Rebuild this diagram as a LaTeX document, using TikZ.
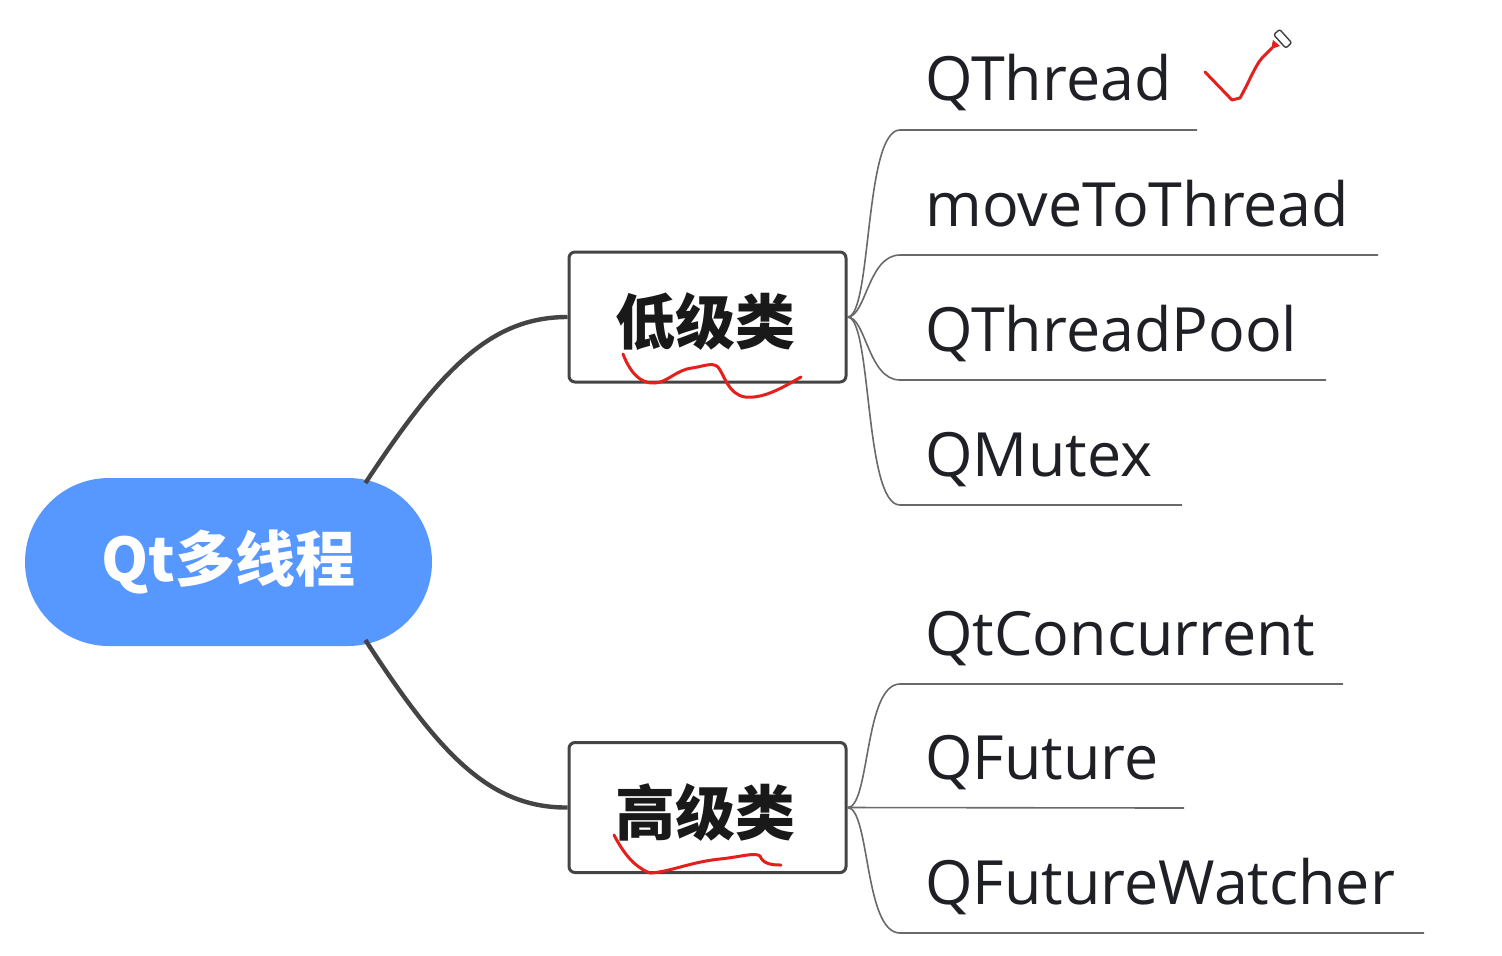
\documentclass[tikz,border=0pt]{standalone}
\usepackage{fontspec}
\setmainfont{Open Sans}
\newfontfamily\cjk{Noto Sans CJK SC}
\usetikzlibrary{calc}
\definecolor{rootblue}{RGB}{86,152,255}
\definecolor{linegray}{RGB}{68,68,68}
\definecolor{leafgray}{RGB}{105,105,105}
\definecolor{inkred}{RGB}{228,32,28}
\definecolor{txtdark}{RGB}{30,32,38}
\definecolor{boxtext}{RGB}{25,25,25}
\tikzset{
  rootnode/.style={rectangle, rounded corners=42pt, fill=rootblue, minimum width=203.5pt, minimum height=84pt, inner sep=0pt, text=white, font=\cjk\bfseries\fontsize{30}{36}\selectfont},
  catbox/.style={rectangle, rounded corners=3pt, draw=linegray, line width=1.5pt, fill=white, minimum width=138.5pt, minimum height=65pt, inner sep=0pt, text=boxtext, font=\cjk\bfseries\fontsize{30}{36}\selectfont},
  leaftext/.style={anchor=base west, inner sep=0pt, text=txtdark, font=\fontsize{30.5}{36}\selectfont},
  mainlink/.style={draw=linegray, line width=2.2pt},
  leafline/.style={draw=leafgray, line width=0.8pt},
  ink/.style={draw=inkred, line width=1.5pt, line cap=round, line join=round}
}
\begin{document}
\begin{tikzpicture}[x=0.5pt,y=-0.5pt]
\useasboundingbox (0,0) rectangle (1502,955);

% root and categories
\node[rootnode] (root) at (228.5,562) {Qt多线程};
\node[catbox] (lo) at (707.5,317) {};
\node[catbox] (hi) at (707.5,807.5) {};
\node[inner sep=0pt, text=boxtext, font=\cjk\bfseries\fontsize{30}{36}\selectfont] (lotxt) at (705,322) {低级类};
\node[inner sep=0pt, text=boxtext, font=\cjk\bfseries\fontsize{30}{36}\selectfont] (hitxt) at (705,812) {高级类};

\coordinate (rs1) at ($(root.east)+(-67,-79)$);
\coordinate (rs2) at ($(root.east)+(-67,78)$);
\draw[mainlink] (rs1) .. controls (440,370) and (490,317) .. (lo.west);
\draw[mainlink] (rs2) .. controls (440,755) and (490,808) .. (hi.west);

% leaf texts
\node[leaftext] (t1) at (925,100) {QThread};
\node[leaftext] (t2) at (925,226) {moveToThread};
\node[leaftext] (t3) at (925,351) {QThreadPool};
\node[leaftext] (t4) at (925,476) {QMutex};
\node[leaftext] (t5) at (925,655) {QtConcurrent};
\node[leaftext] (t6) at (925,779) {QFuture};
\node[leaftext] (t7) at (925,904) {QFutureWatcher};

% underline ends
\coordinate (u1) at (1197,130);
\coordinate (u2) at (1378,255);
\coordinate (u3) at (1326,380);
\coordinate (u4) at (1182,505);
\coordinate (u5) at (1343,684);
\coordinate (u6) at (1184,808);
\coordinate (u7) at (1424,933);

% leaf connectors
\draw[leafline] (lo.east) .. controls (872,317) and (864,130) .. (900,130) -- (u1);
\draw[leafline] (lo.east) .. controls (866,317) and (868,255) .. (900,255) -- (u2);
\draw[leafline] (lo.east) .. controls (866,317) and (868,380) .. (900,380) -- (u3);
\draw[leafline] (lo.east) .. controls (872,317) and (864,505) .. (900,505) -- (u4);
\draw[leafline] (hi.east) .. controls (870,808) and (864,684) .. (900,684) -- (u5);
\draw[leafline] (hi.east) -- (u6);
\draw[leafline] (hi.east) .. controls (870,808) and (864,933) .. (900,933) -- (u7);

% red handwritten marks
\draw[ink] (1205,72) -- (1232,100) -- (1240,98) .. controls (1250,80) and (1255,66) .. (1262,58) -- (1272,48);
\draw[ink] (623,354) .. controls (630,372) and (640,384) .. (655,383)
  .. controls (668,382) and (676,370) .. (692,368)
  .. controls (705,366) and (712,362) .. (718,367)
  .. controls (725,376) and (728,394) .. (745,397)
  .. controls (765,399) and (785,386) .. (801,377);
\draw[ink] (614,835) .. controls (622,850) and (632,866) .. (650,873)
  .. controls (670,872) and (690,862) .. (720,859)
  .. controls (740,857) and (755,852) .. (760,856)
  .. controls (763,864) and (772,865) .. (781,865);
% pen icon
\draw[line width=0.7pt, draw=black!75, fill=white, rounded corners=1pt, rotate around={-48:(1282,38)}] (1274,34) rectangle (1292,42);
\fill[inkred] (1271,49) -- (1273,40) -- (1280,46) -- cycle;
\end{tikzpicture}
\end{document}
